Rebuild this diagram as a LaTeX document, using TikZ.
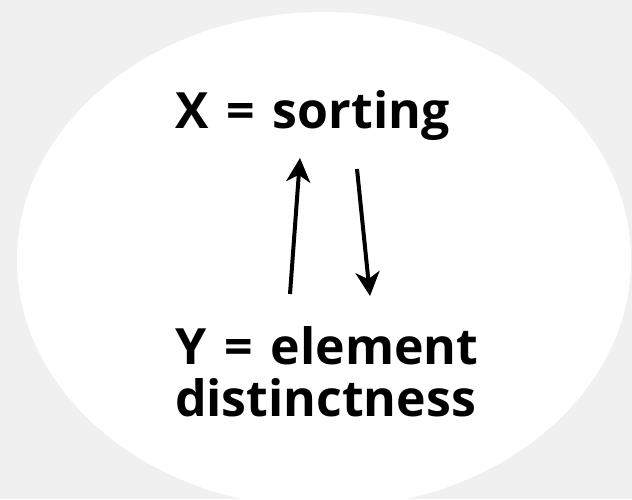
\documentclass[tikz,border=0pt]{standalone}
\usepackage{fontspec}
\setmainfont{Open Sans}
\usetikzlibrary{arrows.meta}
\definecolor{bgback}{RGB}{240,240,240}
\tikzset{
  lbl/.style={inner sep=0pt, outer sep=0pt, font=\bfseries\fontsize{50}{52}\selectfont, align=left,
    execute at begin node={\spaceskip=18pt\relax}},
  arr/.style={line width=4pt, -{Stealth[length=24pt, width=24pt, inset=7pt]}}
}
\begin{document}
\begin{tikzpicture}[x=1pt, y=-1pt]
\useasboundingbox (0,0) rectangle (632,499);
\fill[bgback] (0,0) rectangle (632,499);
\begin{scope}
\clip (0,0) rectangle (632,499);
\fill[white] (324,260) ellipse [x radius=307, y radius=248];
\end{scope}
\node[lbl, anchor=base west] (X) at (175,128) {X = sorting};
\node[lbl, anchor=north west] (Y) at (175,327) {Y = element\\distinctness};
\coordinate (upS) at (290,294);
\coordinate (upE) at (300,158);
\coordinate (dnS) at (357,169);
\coordinate (dnE) at (370,296);
\draw[arr] (upS) -- (upE);
\draw[arr] (dnS) -- (dnE);
\end{tikzpicture}
\end{document}
